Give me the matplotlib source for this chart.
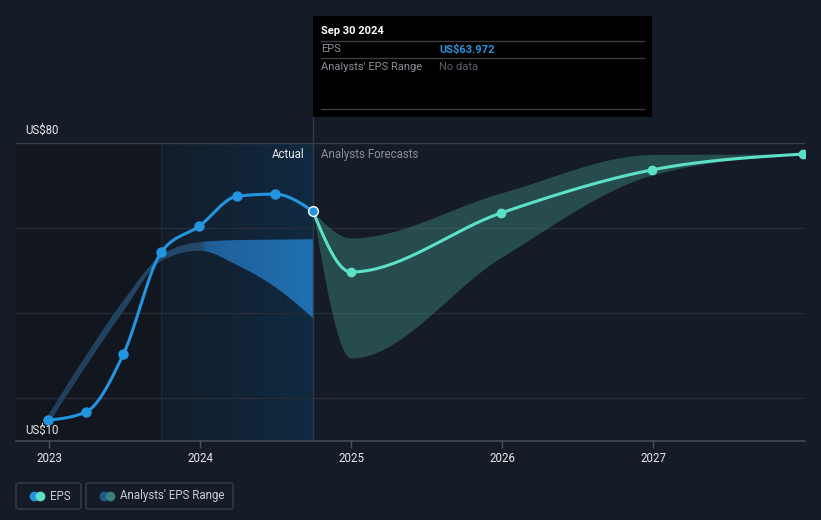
import numpy as np
import pandas as pd
import matplotlib
matplotlib.use("Agg")
import matplotlib.pyplot as plt
from matplotlib.colors import LinearSegmentedColormap
from matplotlib.patches import Rectangle, FancyBboxPatch, Polygon
from matplotlib.lines import Line2D

plt.rcParams['font.family'] = ['Roboto', 'DejaVu Sans']

# ---- data ----
actual_dates = ["2022-12-31", "2023-03-31", "2023-06-30", "2023-09-30",
                "2023-12-31", "2024-03-31", "2024-06-30", "2024-09-30"]
actual_eps = [14.9, 16.8, 30.4, 54.4, 60.5, 67.5, 68.0, 63.972]

past_low = [14.0, 27.5, 40.5, 52.3, 54.7, 51.3, 46.2, 38.9]
past_high = [16.2, 30.0, 43.0, 53.6, 56.7, 57.2, 57.3, 57.4]

fc_dates = ["2024-09-30", "2024-12-31", "2025-12-31", "2026-12-31", "2027-12-31"]
fc_eps = [63.972, 49.7, 63.6, 73.7, 77.4]
fc_low = [63.972, 29.5, 53.2, 72.5, 77.4]
fc_high = [63.972, 57.7, 68.3, 77.3, 77.4]

year_ticks = [2023, 2024, 2025, 2026, 2027]
y_labels = {80: "US$80", 10: "US$10"}
grid_vals = [20, 40, 60]

BG = "#161c27"
BLUE = "#2394df"
TEAL = "#5de0c8"
FS = 8.3


def dec_year(dates):
    d = pd.to_datetime(dates)
    start = pd.to_datetime(d.year.astype(str) + "-01-01")
    return np.asarray(d.year + (d - start).days / 365.25)


def monotone(x, y, n=40):
    # d3 curveMonotoneX style drawing of a polyline
    x = np.asarray(x, float); y = np.asarray(y, float)
    h = np.diff(x); s = np.diff(y) / h
    t = np.zeros_like(y)
    for i in range(1, len(x) - 1):
        p = (s[i - 1] * h[i] + s[i] * h[i - 1]) / (h[i - 1] + h[i])
        t[i] = (np.sign(s[i - 1]) + np.sign(s[i])) * min(abs(s[i - 1]), abs(s[i]), 0.5 * abs(p))
    t[0] = (3 * s[0] - t[1]) / 2 if len(x) > 2 else s[0]
    t[-1] = (3 * s[-1] - t[-2]) / 2 if len(x) > 2 else s[-1]
    xs, ys = [], []
    for i in range(len(x) - 1):
        u = np.linspace(0, 1, n)
        x0, x1 = x[i], x[i + 1]
        y0, y1 = y[i], y[i + 1]
        c1 = y0 + t[i] * h[i] / 3
        c2 = y1 - t[i + 1] * h[i] / 3
        bx = x0 + (x1 - x0) * u
        by = (1 - u) ** 3 * y0 + 3 * (1 - u) ** 2 * u * c1 + 3 * (1 - u) * u ** 2 * c2 + u ** 3 * y1
        xs.append(bx if i == 0 else bx[1:]); ys.append(by if i == 0 else by[1:])
    return np.concatenate(xs), np.concatenate(ys)


W, H = 821, 520
fig = plt.figure(figsize=(W / 100, H / 100), dpi=100, facecolor=BG)


def fx(px):
    return px / W


def fy(py):
    return 1 - py / H


ax = fig.add_axes([fx(16), fy(441), fx(805) - fx(16), fy(143) - fy(441)])
ax.set_facecolor(BG)
x_left = 2023 - 33 / 151
x_right = 2023 + 756 / 151
ax.set_xlim(x_left, x_right)
ax.set_ylim(10, 80)
for sp in ax.spines.values():
    sp.set_visible(False)

xa = dec_year(actual_dates)
xf = dec_year(fc_dates)
x_hl = xa[3]
x_now = xa[-1]

# background regions
ax.axvspan(x_left, x_hl, color="#12161e", zorder=0, lw=0)
grad = np.linspace(0, 1, 256).reshape(1, -1)
hl_cmap = LinearSegmentedColormap.from_list("hl", ["#141d2a", "#0f2a41"])
ax.imshow(grad, extent=[x_hl, x_now, 10, 80], aspect="auto", cmap=hl_cmap, zorder=0.5)
ax.axvline(x_hl, color="#1b2a3b", lw=0.8, zorder=0.6)

# grid
for g in grid_vals:
    ax.axhline(g, color="#262d39", lw=1, zorder=1)
ax.axhline(80, color="#3a404b", lw=1, zorder=1)
ax.axhline(10, color="#454b56", lw=1.2, zorder=1, clip_on=False)

ax.set_xticks(year_ticks)
ax.set_xticklabels([str(y) for y in year_ticks])
ax.tick_params(axis="x", colors="#4a505a", length=5, width=1, labelcolor="#e6e8eb",
               labelsize=FS, pad=3)
ax.set_yticks([])

# past analysts' range (gradient fill)
bx, bl = monotone(xa, past_low)
_, bh = monotone(xa, past_high)
poly = Polygon(np.column_stack([np.concatenate([bx, bx[::-1]]),
                                np.concatenate([bh, bl[::-1]])]),
               closed=True, facecolor="none", edgecolor="none")
ax.add_patch(poly)
band_cmap = LinearSegmentedColormap.from_list(
    "band", [(0, "#1f3f5c"), (0.58, "#23496b"), (0.6, "#1f5f98"), (1, "#2070b0")])
img = ax.imshow(grad, extent=[xa[0], x_now, 10, 80], aspect="auto", cmap=band_cmap, zorder=2)
img.set_clip_path(poly)

# forecast range
fx_, fl = monotone(xf, fc_low)
_, fh = monotone(xf, fc_high)
ax.fill_between(fx_, fl, fh, color="#3f8f86", alpha=0.42, lw=0, zorder=2)

# now line
ax.axvline(x_now, ymin=0, ymax=(441 - 117) / 298, color="#2a3b4f", lw=1, zorder=1.5, clip_on=False)

# lines
lx, ly = monotone(xa, actual_eps)
ax.plot(lx, ly, color=BLUE, lw=2.2, zorder=4, solid_capstyle="round")
ax.plot(xa[:-1], actual_eps[:-1], "o", color=BLUE, ms=6.5, zorder=5)
qx, qy = monotone(xf, fc_eps)
ax.plot(qx, qy, color=TEAL, lw=2.2, zorder=4, solid_capstyle="round")
ax.plot(xf[1:], fc_eps[1:], "o", color=TEAL, ms=6, zorder=5)
ax.plot([x_now], [actual_eps[-1]], "o", color=BLUE, ms=7, mec="white", mew=1, zorder=6)

# texts inside
ax.text(x_now - 8 / 151, 77.4, "Actual", color="#e6e8eb", fontsize=FS, ha="right", va="center")
ax.text(x_now + 8 / 151, 77.4, "Analysts Forecasts", color="#8a8f97", fontsize=FS, ha="left", va="center")
fig.text(fx(25), fy(130), y_labels[80], color="#e6e8eb", fontsize=FS, va="center")
fig.text(fx(25), fy(430), y_labels[10], color="#e6e8eb", fontsize=FS, va="center")

# tooltip
fig.add_artist(Rectangle((fx(313), fy(117)), fx(652) - fx(313), fy(16) - fy(117),
                         transform=fig.transFigure, facecolor="black", edgecolor="none", zorder=10))
for yy in (41, 58, 109):
    fig.add_artist(Line2D([fx(321), fx(644)], [fy(yy), fy(yy)], transform=fig.transFigure,
                          color="#3a3d42", lw=1, zorder=11))
fig.text(fx(321), fy(31), "Sep 30 2024", color="white", fontsize=8, fontweight="bold", va="center", zorder=12)
fig.text(fx(321), fy(49.5), "EPS", color="#8a8f97", fontsize=8, va="center", zorder=12)
fig.text(fx(439), fy(49.5), "US$63.972", color=BLUE, fontsize=8, fontweight="bold", va="center", zorder=12)
fig.text(fx(321), fy(66.5), "Analysts' EPS Range", color="#8a8f97", fontsize=8, va="center", zorder=12)
fig.text(fx(439), fy(66.5), "No data", color="#5a5f67", fontsize=8, va="center", zorder=12)

# legend
for (x0, x1, c1, c2, label, tx) in [(16, 81, BLUE, TEAL, "EPS", 50),
                                    (86, 233, "#1d5a8c", "#3a7f7a", "Analysts' EPS Range", 120)]:
    fig.add_artist(FancyBboxPatch((fx(x0), fy(509)), fx(x1) - fx(x0), fy(483) - fy(509),
                                  boxstyle="round,pad=0,rounding_size=0.004",
                                  transform=fig.transFigure, facecolor="none",
                                  edgecolor="#3a404b", lw=1))
    fig.add_artist(Line2D([fx(x0 + 18)], [fy(496)], marker="o", ms=7, color=c1, mew=0,
                          transform=fig.transFigure))
    fig.add_artist(Line2D([fx(x0 + 24)], [fy(496)], marker="o", ms=7, color=c2, mew=0,
                          transform=fig.transFigure))
    fig.text(fx(tx), fy(496), label, color="#c8ccd2", fontsize=FS, va="center")

fig.savefig("out.png", dpi=100, facecolor=BG)
